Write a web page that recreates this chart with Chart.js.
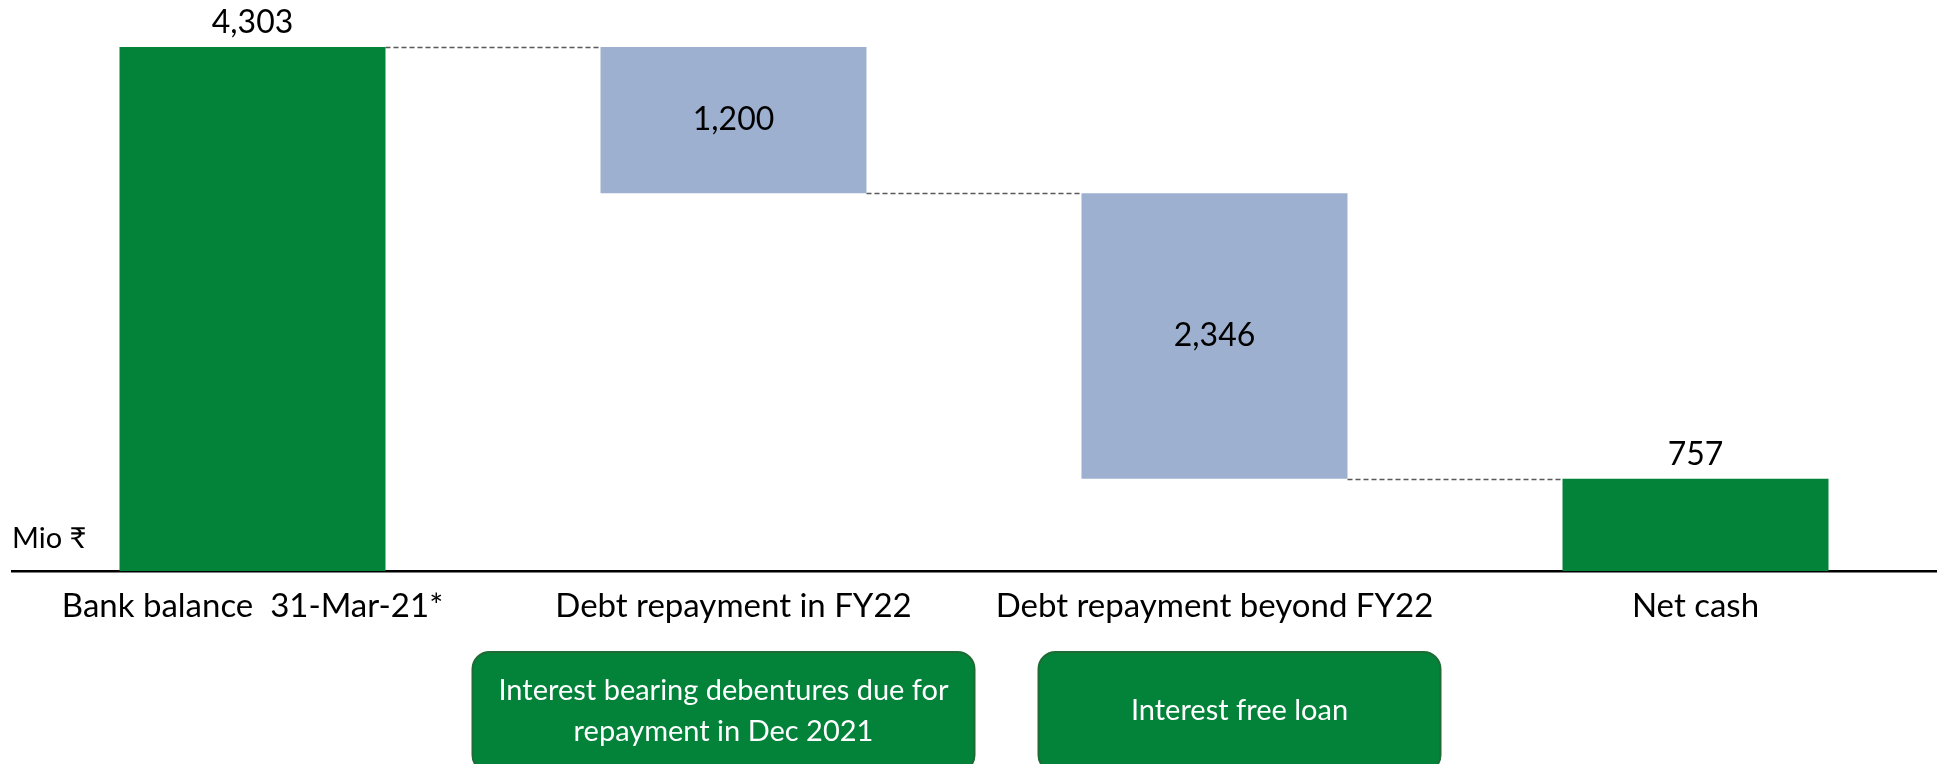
<!DOCTYPE html>
<html>
<head>
<meta charset="utf-8">
<script src="https://cdn.jsdelivr.net/npm/chart.js@4"></script>
<style>
  html, body { margin: 0; padding: 0; background: #ffffff; }
  canvas { display: block; }
</style>
</head>
<body>
<canvas id="c" width="1944" height="764"></canvas>
<script>
// ---- data ----
const categories = ['Bank balance  31-Mar-21*', 'Debt repayment in FY22', 'Debt repayment beyond FY22', 'Net cash'];
const amounts = [4303, 1200, 2346, 757];
const kinds = ['total', 'decrease', 'decrease', 'total'];
const valueLabels = ['4,303', '1,200', '2,346', '757'];
const unitLabel = 'Mio ₹';
const noteCategories = [1, 2];
const noteTexts = [['Interest bearing debentures due for', 'repayment in Dec 2021'], ['Interest free loan']];

// ---- styles ----
const GREEN = '#03823A';
const BLUE = '#9DB0CF';
const FONT = 'Lato, "Noto Sans", "DejaVu Sans", sans-serif';

// build floating ranges
let running = 0;
const ranges = amounts.map((v, i) => {
  if (kinds[i] === 'total') { running = v; return [0, v]; }
  const r = [running - v, running];
  running -= v;
  return r;
});
const colors = kinds.map(k => k === 'total' ? GREEN : BLUE);

const overlay = {
  id: 'overlay',
  afterDatasetsDraw(chart) {
    const ctx = chart.ctx;
    const meta = chart.getDatasetMeta(0);
    const xs = chart.scales.x;
    ctx.save();
    // connectors
    ctx.strokeStyle = '#595959';
    ctx.lineWidth = 1.5;
    ctx.setLineDash([5, 3]);
    for (let i = 0; i < meta.data.length - 1; i++) {
      const a = meta.data[i], b = meta.data[i + 1];
      const level = kinds[i] === 'total' ? a.y : Math.max(a.y, a.base);
      const y = Math.round(level) + 0.5;
      ctx.beginPath();
      ctx.moveTo(a.x + a.width / 2, y);
      ctx.lineTo(b.x - b.width / 2, y);
      ctx.stroke();
    }
    ctx.setLineDash([]);
    // value labels
    ctx.fillStyle = '#000';
    ctx.font = '32px ' + FONT;
    ctx.textAlign = 'center';
    ctx.textBaseline = 'middle';
    meta.data.forEach((bar, i) => {
      if (kinds[i] === 'total') {
        ctx.fillText(valueLabels[i], bar.x, Math.min(bar.y, bar.base) - 24);
      } else {
        ctx.fillText(valueLabels[i], bar.x, (bar.y + bar.base) / 2);
      }
    });
    // unit label
    ctx.textAlign = 'left';
    ctx.textBaseline = 'alphabetic';
    ctx.font = '29px ' + FONT;
    ctx.fillText(unitLabel, 12, 548);
    // note boxes
    const boxW = [502, 402];
    const boxOff = [-10, 25];
    noteCategories.forEach((ci, k) => {
      const cx = xs.getPixelForValue(ci) + boxOff[k];
      const w = boxW[k], h = 120, top = 652;
      const x = cx - w / 2;
      ctx.beginPath();
      ctx.roundRect(x, top, w, h, 17);
      ctx.fillStyle = GREEN;
      ctx.fill();
      ctx.lineWidth = 2;
      ctx.strokeStyle = '#1E6B35';
      ctx.stroke();
      ctx.fillStyle = '#fff';
      ctx.font = '29px ' + FONT;
      ctx.textAlign = 'center';
      ctx.textBaseline = 'middle';
      const lines = noteTexts[k];
      const lh = 41;
      const cy = top + h / 2 - 1;
      lines.forEach((t, j) => {
        ctx.fillText(t, cx, cy + (j - (lines.length - 1) / 2) * lh);
      });
    });
    ctx.restore();
  }
};

new Chart(document.getElementById('c'), {
  type: 'bar',
  data: {
    labels: categories,
    datasets: [{
      data: ranges,
      backgroundColor: colors,
      borderWidth: 0,
      barPercentage: 0.553,
      categoryPercentage: 1.0
    }]
  },
  options: {
    responsive: false,
    animation: false,
    layout: { padding: { left: 12, right: 8, top: 0, bottom: 0 } },
    plugins: { legend: { display: false }, tooltip: { enabled: false } },
    scales: {
      y: { display: false, min: 0, max: 4690 },
      x: {
        grid: { display: false, drawTicks: false },
        border: { display: true, color: '#000', width: 2.5 },
        ticks: { color: '#000', font: { family: FONT, size: 33 }, padding: 16, maxRotation: 0, autoSkip: false },
        afterFit(scale) { scale.height = 193; }
      }
    }
  },
  plugins: [overlay]
});
</script>
</body>
</html>
